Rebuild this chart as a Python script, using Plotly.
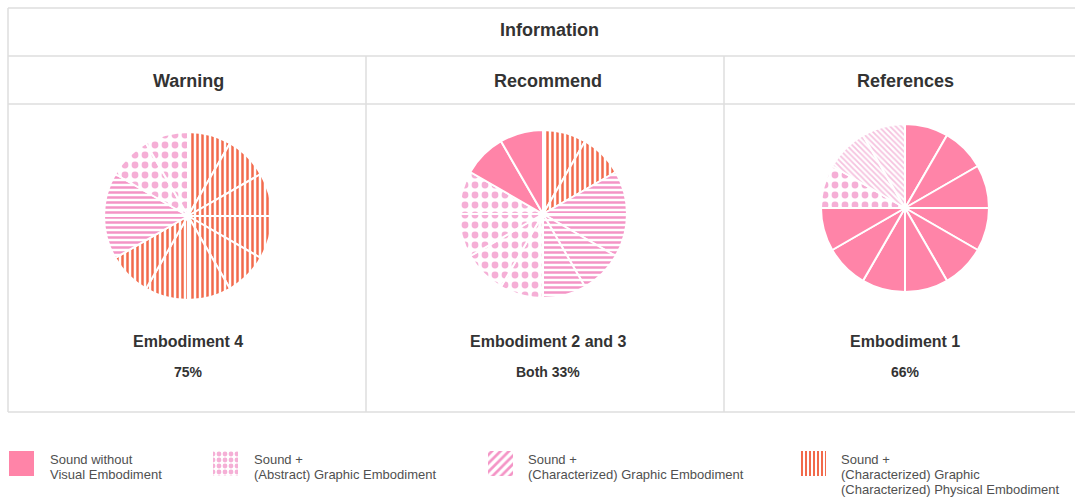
import plotly.graph_objects as go

# ---------------- data ----------------
panel_titles = ["Warning", "Recommend", "References"]
panel_embodiments = ["Embodiment 4", "Embodiment 2 and 3", "Embodiment 1"]
panel_shares = ["75%", "Both 33%", "66%"]
header_title = "Information"

categories = ["none", "abstract", "characterized", "physical"]
legend_labels = [
    "Sound without<br>Visual Embodiment",
    "Sound +<br>(Abstract) Graphic Embodiment",
    "Sound +<br>(Characterized) Graphic Embodiment",
    "Sound +<br>(Characterized) Graphic<br>(Characterized) Physical Embodiment",
]

# slice order clockwise from 12 o'clock, counted in units of 1/12
warning_order = ["physical", "characterized", "abstract"]
warning_counts = [8, 2, 2]
recommend_order = ["physical", "characterized", "abstract", "none"]
recommend_counts = [2, 4, 4, 2]
references_order = ["none", "abstract", "characterized"]
references_counts = [9, 1, 2]

# ---------------- styles ----------------
W, H = 1075, 500
PINK = "#FF84A8"
DOT = "#F5AFD6"
STRIPE = "#F494C6"
LIGHT_STRIPE = "#F6C2DF"
ORANGE = "#F26A4B"
GRID = "#DEDEDE"
TXT = "#333333"
LEG_TXT = "#505050"

style = {
    "none": dict(shape="", fg=PINK, bg=PINK, size=8, sol=0.3),
    "abstract": dict(shape=".", fg=DOT, bg="white", size=10, sol=0.36),
    "characterized": dict(shape="-", fg=STRIPE, bg="white", size=5, sol=0.5),
    "physical": dict(shape="|", fg=ORANGE, bg="white", size=5, sol=0.5),
}
ref_char_style = dict(shape="\\", fg=LIGHT_STRIPE, bg="white", size=4, sol=0.45)

def px_x(x):
    return x / W

def px_y(y):
    return 1 - y / H

fig = go.Figure()

pie_specs = [
    (warning_order, warning_counts, (188, 216), None),
    (recommend_order, recommend_counts, (543, 214), None),
    (references_order, references_counts, (905, 208), {"characterized": ref_char_style}),
]
R = 84

for i, (order, counts, (cx, cy), override) in enumerate(pie_specs):
    labels, values, shapes, fgs, bgs, sizes, sols, colors = [], [], [], [], [], [], [], []
    for cat, n in zip(order, counts):
        st = (override or {}).get(cat, style[cat])
        for k in range(n):
            labels.append(f"{panel_titles[i]} {cat} {k + 1}")
            values.append(1)
            shapes.append(st["shape"])
            fgs.append(st["fg"])
            bgs.append(st["bg"])
            sizes.append(st["size"])
            sols.append(st["sol"])
            colors.append(st["bg"] if st["shape"] else st["fg"])
    fig.add_trace(go.Pie(
        labels=labels, values=values, sort=False, direction="clockwise", rotation=0,
        textinfo="none", hoverinfo="skip", showlegend=False,
        marker=dict(colors=colors, line=dict(color="white", width=2),
                    pattern=dict(shape=shapes, fgcolor=fgs, bgcolor=bgs, fgopacity=1,
                                 size=sizes, solidity=sols, fillmode="overlay")),
        domain=dict(x=[px_x(cx - R), px_x(cx + R)], y=[px_y(cy + R), px_y(cy - R)]),
    ))

# legend swatches as patterned bars (one trace per category)
swatch_x = [21.5, 225, 500.5, 813]
leg_styles = [
    style["none"],
    dict(shape=".", fg=DOT, bg="white", size=6, sol=0.5),
    dict(shape="/", fg=STRIPE, bg="white", size=6, sol=0.45),
    dict(shape="|", fg=ORANGE, bg="white", size=4, sol=0.5),
]
for cat, sx, s in zip(categories, swatch_x, leg_styles):
    marker = dict(color=s["fg"] if not s["shape"] else s["bg"], line=dict(width=0))
    if s["shape"]:
        marker["pattern"] = dict(shape=s["shape"], fgcolor=s["fg"], bgcolor=s["bg"],
                                 fgopacity=1, size=s["size"], solidity=s["sol"],
                                 fillmode="overlay")
    fig.add_trace(go.Bar(
        x=[sx], y=[1], width=[25], name=cat,
        xaxis="x2", yaxis="y2", showlegend=False, hoverinfo="skip", marker=marker,
    ))

# grid lines
line = dict(color=GRID, width=1.5)
shapes = []
for y in [8, 56, 104, 412]:
    shapes.append(dict(type="line", xref="paper", yref="paper",
                       x0=px_x(8), x1=1, y0=px_y(y), y1=px_y(y), line=line))
shapes.append(dict(type="line", xref="paper", yref="paper",
                   x0=px_x(8), x1=px_x(8), y0=px_y(8), y1=px_y(412), line=line))
for x in [366, 724]:
    shapes.append(dict(type="line", xref="paper", yref="paper",
                       x0=px_x(x), x1=px_x(x), y0=px_y(56), y1=px_y(412), line=line))

FONT = "Liberation Sans, Arial, sans-serif"
ann = []

def text(x, y, s, size, color=TXT, bold=True, xanchor="center"):
    ann.append(dict(x=px_x(x), y=px_y(y), xref="paper", yref="paper",
                    text=f"<b>{s}</b>" if bold else s, showarrow=False,
                    xanchor=xanchor, yanchor="middle",
                    font=dict(family=FONT, size=size, color=color)))

text(549, 30, header_title, 18)
col_x = [188, 548, 905]
for i in range(3):
    text(col_x[i], 81, panel_titles[i], 18)
    text(col_x[i], 341, panel_embodiments[i], 16)
    text(col_x[i], 372, panel_shares[i], 14)

leg_text_x = [48, 252, 526, 839]
for lx, lab in zip(leg_text_x, legend_labels):
    for j, part in enumerate(lab.split("<br>")):
        text(lx, 459 + j * 15, part, 13, color=LEG_TXT, bold=False, xanchor="left")

fig.update_layout(
    width=W, height=H, margin=dict(l=0, r=0, t=0, b=0),
    paper_bgcolor="white", plot_bgcolor="rgba(0,0,0,0)",
    shapes=shapes, annotations=ann,
    xaxis=dict(visible=False), yaxis=dict(visible=False),
    xaxis2=dict(domain=[0, 1], range=[0, W], visible=False, fixedrange=True, anchor="y2"),
    yaxis2=dict(domain=[px_y(476), px_y(451)], range=[0, 1], visible=False, fixedrange=True, anchor="x2"),
    barmode="overlay", bargap=0,
)

fig.write_html("out.html")
